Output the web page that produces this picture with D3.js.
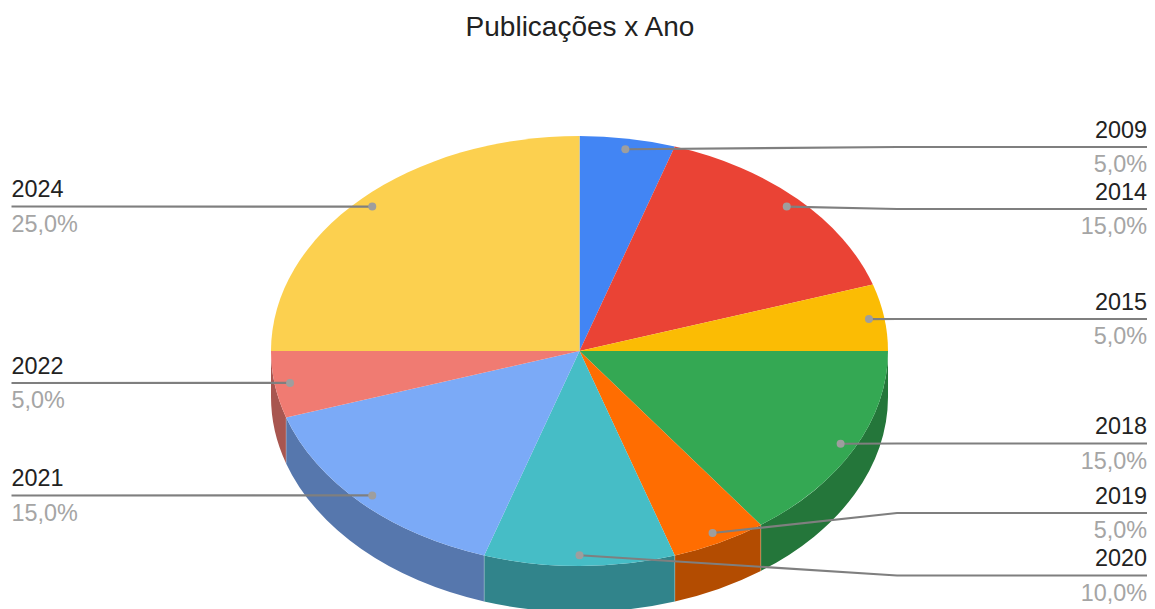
<!DOCTYPE html>
<html>
<head>
<meta charset="utf-8">
<script src="https://cdn.jsdelivr.net/npm/d3@7"></script>
<style>
  html, body { margin: 0; padding: 0; background: #fff; overflow: hidden; }
  text { font-family: "Liberation Sans", Arial, sans-serif; }
</style>
</head>
<body>
<div id="chart"></div>
<script>
const years = ["2009", "2014", "2015", "2018", "2019", "2020", "2021", "2022", "2024"];
const shares = [5, 15, 5, 15, 5, 10, 15, 5, 25];
const colors = ["#4285f4", "#ea4335", "#fbbc04", "#34a853", "#ff6d01", "#46bdc6", "#7baaf7", "#f07b72", "#fcd04f"];
const chartTitle = "Publicações x Ano";

// where each label's rule sits, same order as years
const labelRuleY = [147, 209, 319, 443.5, 513, 575.5, 495.5, 383, 206.5];

const width = 1155;
const height = 609;
const cx = 579.5;
const cy = 351;
const rx = 308.5;
const ry = 215;
const depth = 46;
const dotRatio = 0.95;
const elbowX = 897;
const rightEdge = 1147;
const leftEdge = 11.5;

const svg = d3.select("#chart")
  .append("svg")
  .attr("width", width)
  .attr("height", height);

const slices = d3.pie().sort(null).value(d => d)(shares);

// point on the ellipse, angle measured clockwise from the top
const onEllipse = (a, k = 1) => [cx + rx * k * Math.sin(a), cy - ry * k * Math.cos(a)];

svg.append("text")
  .attr("x", 580)
  .attr("y", 36)
  .attr("text-anchor", "middle")
  .attr("font-size", 28)
  .attr("fill", "#222")
  .text(chartTitle);

// side wall, only the front half of the pie shows it
const walls = svg.append("g");
slices.forEach((s, i) => {
  const a0 = Math.max(s.startAngle, Math.PI / 2);
  const a1 = Math.min(s.endAngle, Math.PI * 1.5);
  if (a1 <= a0) return;
  const [x0, y0] = onEllipse(a0);
  const [x1, y1] = onEllipse(a1);
  const dark = d3.rgb(colors[i]);
  walls.append("path")
    .attr("d", `M${x0},${y0} A${rx},${ry} 0 0 1 ${x1},${y1} L${x1},${y1 + depth} A${rx},${ry} 0 0 0 ${x0},${y0 + depth} Z`)
    .attr("fill", d3.rgb(dark.r * 0.7, dark.g * 0.7, dark.b * 0.7));
});

// seams between the wall pieces
slices.forEach(s => {
  if (s.startAngle <= Math.PI / 2 || s.startAngle >= Math.PI * 1.5) return;
  const [x, y] = onEllipse(s.startAngle);
  walls.append("line")
    .attr("x1", x).attr("x2", x)
    .attr("y1", y).attr("y2", y + depth)
    .attr("stroke", "#fff")
    .attr("stroke-opacity", 0.25)
    .attr("stroke-width", 1);
});

// top face: unit arcs stretched into the ellipse
const arc = d3.arc().innerRadius(0).outerRadius(1);
svg.append("g")
  .attr("transform", `translate(${cx},${cy}) scale(${rx},${ry})`)
  .selectAll("path")
  .data(slices)
  .enter()
  .append("path")
  .attr("d", arc)
  .attr("fill", (_, i) => colors[i]);

// leader lines and labels
const line = d3.line();
const labels = svg.append("g");
slices.forEach((s, i) => {
  const mid = (s.startAngle + s.endAngle) / 2;
  const dot = onEllipse(mid, dotRatio);
  const ruleY = labelRuleY[i];
  // the slice at the very bottom (2020) still goes to the right
  const onRight = mid <= Math.PI + 1e-6;
  const pts = onRight
    ? [dot, [elbowX, ruleY], [rightEdge, ruleY]]
    : [dot, [leftEdge, ruleY]];

  labels.append("path")
    .attr("d", line(pts))
    .attr("fill", "none")
    .attr("stroke", "#7f7f7f")
    .attr("stroke-width", 2.2);

  labels.append("circle")
    .attr("cx", dot[0])
    .attr("cy", dot[1])
    .attr("r", 4)
    .attr("fill", "#9e9e9e");

  const textX = onRight ? rightEdge : leftEdge;
  const anchor = onRight ? "end" : "start";

  labels.append("text")
    .attr("x", textX)
    .attr("y", ruleY - 9.5)
    .attr("text-anchor", anchor)
    .attr("font-size", 23.4)
    .attr("fill", "#222")
    .text(years[i]);

  labels.append("text")
    .attr("x", textX)
    .attr("y", ruleY + 25)
    .attr("text-anchor", anchor)
    .attr("font-size", 23.4)
    .attr("fill", "#a5a5a5")
    .text(shares[i].toFixed(1).replace(".", ",") + "%");
});
</script>
</body>
</html>
